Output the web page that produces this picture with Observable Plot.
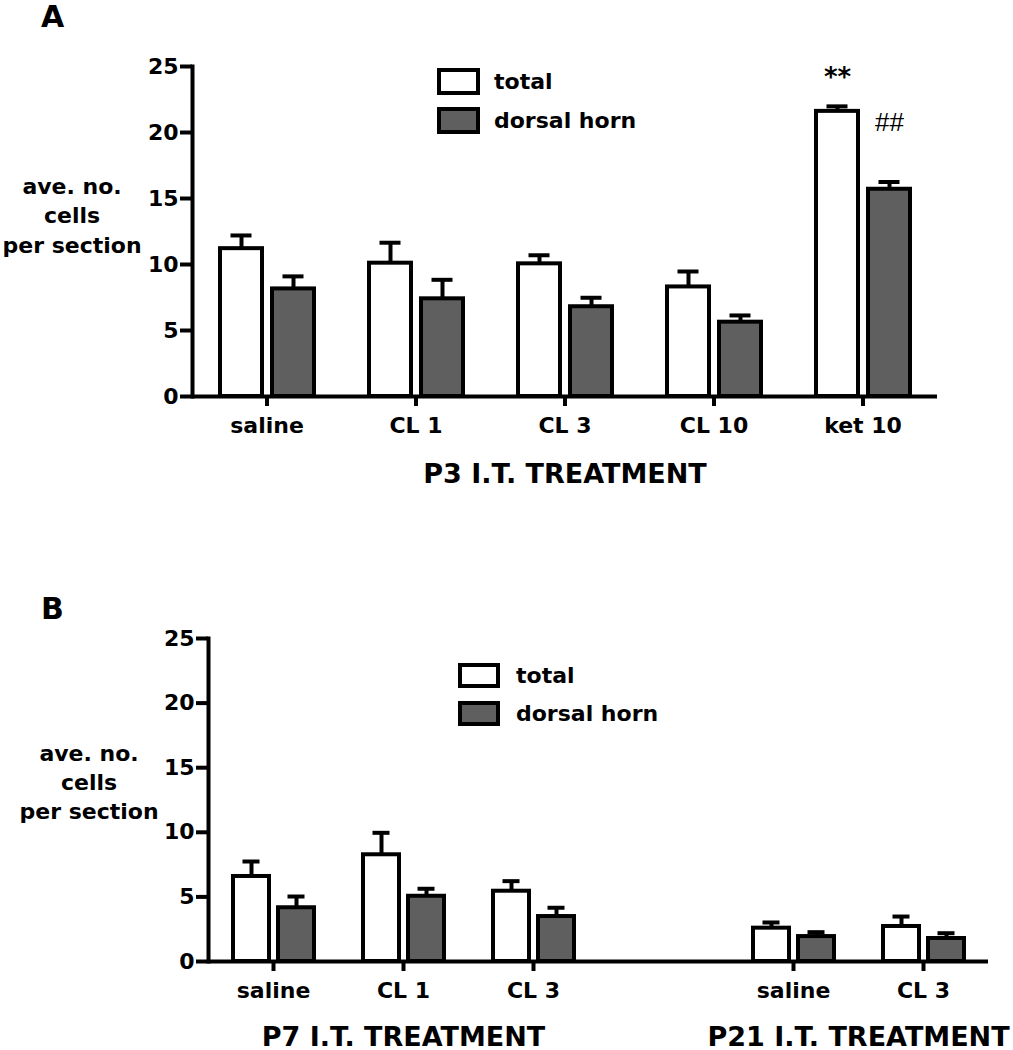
<!DOCTYPE html>
<html>
<head>
<meta charset="utf-8">
<script src="https://cdn.jsdelivr.net/npm/d3@7"></script>
<script src="https://cdn.jsdelivr.net/npm/@observablehq/plot@0.6"></script>
<style>
  body { margin: 0; background: #fff; }
  #root { position: relative; width: 1013px; height: 1050px; font-family: "DejaVu Sans"; font-weight: bold; color: #000; overflow: hidden; }
  .panel { position: absolute; left: 0; }
  .plabel { position: absolute; font-size: 30px; line-height: 30px; }
  .lrow { position: absolute; display: flex; align-items: center; white-space: nowrap; font-size: 22px; line-height: 22px; }
  .lbox { box-sizing: border-box; border: 4px solid #000; }
</style>
</head>
<body>
<div id="root"></div>
<script>
// ---------- data ----------
const series = ["total", "dorsal horn"];
const yTicks = [0, 5, 10, 15, 20, 25];
const yLabel = "ave. no.\ncells\nper section";

// Panel A (P3)
const categoriesA = ["saline", "CL 1", "CL 3", "CL 10", "ket 10"];
const totalMeanA  = [11.2, 10.1, 10.05, 8.3, 21.6];
const totalSemA   = [1.0, 1.55, 0.65, 1.17, 0.38];
const dorsalMeanA = [8.15, 7.4, 6.8, 5.63, 15.7];
const dorsalSemA  = [0.95, 1.44, 0.68, 0.51, 0.55];
const titleA = "P3 I.T. TREATMENT";
const starsA  = [{category: "ket 10", series: "total", symbol: "**"}];
const hashesA = [{category: "ket 10", series: "dorsal horn", symbol: "##"}];

// Panel B (P7 and P21)
const categoriesP7  = ["saline", "CL 1", "CL 3"];
const totalMeanP7   = [6.58, 8.26, 5.44];
const totalSemP7    = [1.16, 1.7, 0.78];
const dorsalMeanP7  = [4.16, 5.05, 3.48];
const dorsalSemP7   = [0.87, 0.58, 0.68];
const titleP7 = "P7 I.T. TREATMENT";

const categoriesP21 = ["saline", "CL 3"];
const totalMeanP21  = [2.58, 2.71];
const totalSemP21   = [0.44, 0.77];
const dorsalMeanP21 = [1.93, 1.78];
const dorsalSemP21  = [0.34, 0.41];
const titleP21 = "P21 I.T. TREATMENT";

// ---------- helpers ----------
const fills = ["#ffffff", "#5f5f5f"];
const GAP = "__gap__";

function rowsFor(keys, tMean, tSem, dMean, dSem) {
  const out = [];
  keys.forEach((k, i) => {
    out.push({key: k, series: series[0], mean: tMean[i], sem: tSem[i]});
    out.push({key: k, series: series[1], mean: dMean[i], sem: dSem[i]});
  });
  return out;
}

function makePanel(cfg) {
  const {keys, tickKeys, labelOf, rows, groups, stars = [], hashes = [], m, height, capInset, yLabelDx, yLabelDy, yLabelLH} = cfg;
  const lookup = (k, s) => rows.find(r => r.key === k && r.series === s);
  const starRows = stars.map(a => { const r = lookup(a.key, a.series); return {...a, top: r.mean + r.sem}; });
  const hashRows = hashes.map(a => { const r = lookup(a.key, a.series); return {...a, top: r.mean + r.sem}; });

  const marks = [
    Plot.ruleX(rows, {fx: "key", x: "series", y1: "mean", y2: d => d.mean + d.sem, stroke: "black", strokeWidth: 4}),
    Plot.barY(rows, {fx: "key", x: "series", y: "mean", fill: "series", stroke: "black", strokeWidth: 4}),
    Plot.tickY(rows, {fx: "key", x: "series", y: d => d.mean + d.sem, stroke: "black", strokeWidth: 4, insetLeft: capInset, insetRight: capInset}),
    Plot.ruleY(keys, {fx: d => d, y: () => 0, stroke: "black", strokeWidth: 4}),
    Plot.frame({anchor: "left", facetAnchor: "left", stroke: "black", strokeWidth: 4}),
    Plot.axisY(yTicks, {tickSize: 12, tickPadding: 2, strokeWidth: 4, fontSize: 22, fontWeight: "bold", label: null}),
    Plot.axisFx({ticks: tickKeys, anchor: "bottom", tickSize: 10, tickPadding: 11, strokeWidth: 4, fontSize: 22, fontWeight: "bold", tickFormat: labelOf, label: null}),
    Plot.text([yLabel], {fx: () => keys[0], text: d => d, frameAnchor: "left", textAnchor: "middle", lineAnchor: "bottom", lineHeight: yLabelLH, dx: yLabelDx, dy: yLabelDy, fontSize: 22, fontWeight: "bold"}),
    Plot.text(starRows, {fx: "key", x: "series", y: "top", text: "symbol", lineAnchor: "bottom", dy: -20, fontSize: 26, fontWeight: "bold"}),
    Plot.text(hashRows, {fx: "key", x: "series", y: "top", text: "symbol", lineAnchor: "bottom", dy: -51, fontSize: 26, fontWeight: "normal", fontFamily: "Liberation Sans"})
  ];
  for (const g of groups) {
    const n = g.keys.length;
    const odd = n % 2 === 1;
    const fxKey = odd ? g.keys[(n - 1) / 2] : g.keys[n / 2 - 1];
    marks.push(Plot.text([g.title], {fx: () => fxKey, text: d => d, frameAnchor: odd ? "bottom" : "bottom-right", textAnchor: "middle", lineAnchor: "bottom", dy: g.dy, fontSize: 27, fontWeight: "bold"}));
  }

  return Plot.plot({
    width: 1013,
    height,
    marginTop: m[0], marginRight: m[1], marginBottom: m[2], marginLeft: m[3],
    style: {fontFamily: "DejaVu Sans", fontWeight: "bold", fontSize: "22px", color: "black", background: "transparent", overflow: "visible"},
    fx: {domain: keys, padding: 0, label: null},
    x: {domain: series, paddingInner: 0.2, paddingOuter: 0.52, axis: null},
    y: {domain: [0, 25]},
    color: {domain: series, range: fills},
    marks
  });
}

function legend(root, left, top, rowGap, boxW, boxH, textGap) {
  series.forEach((s, i) => {
    const row = document.createElement("div");
    row.className = "lrow";
    row.style.left = left + "px";
    row.style.top = (top + i * rowGap) + "px";
    row.style.height = boxH + "px";
    const box = document.createElement("div");
    box.className = "lbox";
    box.style.width = boxW + "px";
    box.style.height = boxH + "px";
    box.style.background = fills[i];
    const t = document.createElement("span");
    t.textContent = s;
    t.style.marginLeft = textGap + "px";
    row.appendChild(box); row.appendChild(t);
    root.appendChild(row);
  });
}

function panelLabel(root, text, left, top) {
  const d = document.createElement("div");
  d.className = "plabel";
  d.textContent = text;
  d.style.left = left + "px";
  d.style.top = top + "px";
  root.appendChild(d);
}

// ---------- build ----------
const root = document.getElementById("root");

// Panel A
const rowsA = rowsFor(categoriesA, totalMeanA, totalSemA, dorsalMeanA, dorsalSemA);
const plotA = makePanel({
  keys: categoriesA,
  tickKeys: categoriesA,
  labelOf: d => d,
  rows: rowsA,
  groups: [{title: titleA, keys: categoriesA, dy: 86}],
  stars: starsA.map(a => ({key: a.category, series: a.series, symbol: a.symbol})),
  hashes: hashesA.map(a => ({key: a.category, series: a.series, symbol: a.symbol})),
  m: [66, 75, 104, 190],
  height: 500,
  capInset: 10.5,
  yLabelDx: -120.5, yLabelDy: 21, yLabelLH: 1.32
});
const wrapA = document.createElement("div");
wrapA.className = "panel"; wrapA.style.top = "0px";
wrapA.appendChild(plotA);
root.appendChild(wrapA);

// Panel B
const keysP7 = categoriesP7.map(c => "P7|" + c);
const keysP21 = categoriesP21.map(c => "P21|" + c);
const keysB = [...keysP7, GAP, ...keysP21];
const rowsB = [
  ...rowsFor(keysP7, totalMeanP7, totalSemP7, dorsalMeanP7, dorsalSemP7),
  ...rowsFor(keysP21, totalMeanP21, totalSemP21, dorsalMeanP21, dorsalSemP21)
];
const plotB = makePanel({
  keys: keysB,
  tickKeys: [...keysP7, ...keysP21],
  labelOf: k => k.split("|")[1],
  rows: rowsB,
  groups: [{title: titleP7, keys: keysP7, dy: 84}, {title: titleP21, keys: keysP21, dy: 84}],
  m: [58, 25, 89, 207],
  height: 470,
  capInset: 9.5,
  yLabelDx: -119.5, yLabelDy: 18.5, yLabelLH: 1.3
});
const wrapB = document.createElement("div");
wrapB.className = "panel"; wrapB.style.top = "580px";
wrapB.appendChild(plotB);
root.appendChild(wrapB);

// Legends and panel letters
legend(root, 437, 68, 39, 43, 27, 14);
legend(root, 458, 663, 38, 42, 25, 16);
panelLabel(root, "A", 41, 1.5);
panelLabel(root, "B", 41, 593.5);
</script>
</body>
</html>
